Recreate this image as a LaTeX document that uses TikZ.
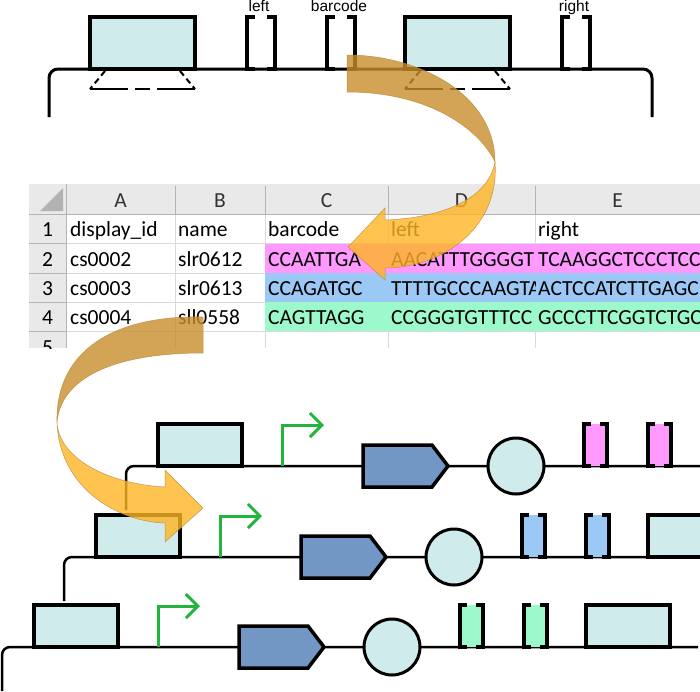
\documentclass[tikz,border=0pt]{standalone}
\usepackage{fontspec}
\setmainfont{Carlito}
\newfontfamily\arialfont{Liberation Sans}
\usetikzlibrary{arrows.meta}

\definecolor{partcyan}{HTML}{CFEBEB}
\definecolor{cdsblue}{HTML}{7397C5}
\definecolor{cellpink}{HTML}{FF99FF}
\definecolor{cellblue}{HTML}{9CC8F5}
\definecolor{cellgreen}{HTML}{9CF9CC}
\definecolor{promgreen}{HTML}{22B43C}
\definecolor{gridline}{HTML}{DADADA}
\definecolor{headbg}{HTML}{E9E9E9}
\definecolor{headline}{HTML}{B4B4B4}
\definecolor{curldark}{HTML}{C98D2C}
\definecolor{curllight}{HTML}{FFB424}
\definecolor{curledge}{HTML}{B5873A}

\tikzset{
  bb/.style={line width=2.5pt},
  partbox/.style={draw, fill=partcyan, line width=3.5pt},
  cdsshape/.style={draw, fill=cdsblue, line width=3.5pt, line join=miter},
  termcircle/.style={draw, fill=partcyan, line width=3pt},
  site/.style={line width=3.5pt},
  prom/.style={promgreen, line width=3pt, -{Straight Barb[length=12pt,width=24pt]}},
  celltext/.style={anchor=base west, inner sep=0pt, font=\fontsize{21.5}{25}\selectfont},
  colhead/.style={anchor=base, inner sep=0pt, font=\fontsize{21.5}{25}\selectfont},
  toplabel/.style={anchor=base, inner sep=0pt, font=\arialfont\fontsize{15.5}{18}\selectfont},
  curl/.style={opacity=0.8, draw=curledge, line width=0.5pt},
}

\begin{document}
\begin{tikzpicture}[x=1pt, y=-1pt]
    \useasboundingbox (0,0) rectangle (700,691);
    \clip (0,0) rectangle (700,691);

    % Vorlage oben
    \draw[line width=3pt, rounded corners=9pt] (49,117) -- (49,69) -- (652,69) -- (652,117);
    \foreach \x in {90,405} {
        \draw[partbox] (\x,17) rectangle (\x+105,69);
        \draw[line width=2pt, dash pattern=on 6pt off 4pt] (\x+15,71) -- (\x,89);
        \draw[line width=2pt, dash pattern=on 6pt off 4pt] (\x+90,71) -- (\x+105,89);
        \draw[line width=2pt, dash pattern=on 38pt off 7pt on 15pt off 7pt on 40pt off 10pt] (\x,89) -- (\x+105,89);
    }
    \foreach \x/\name in {247/left, 327/barcode, 562/right} {
        \draw[site] (\x+8,17) -- (\x,17) -- (\x,69) -- (\x+8,69);
        \draw[site] (\x+20,17) -- (\x+28,17) -- (\x+28,69) -- (\x+20,69);
        \node[toplabel] (lab-\name) at (\x+12,11) {\name};
    }

    % Tabelle
    \begin{scope}
        \clip (29,184) rectangle (700,348);
        \fill[headbg] (29,184) rectangle (700,214);
        \fill[headbg] (29,214) rectangle (66,348);
        \foreach \y in {243,273,302,331} {
            \draw[gridline, line width=1pt] (66,\y) -- (700,\y);
            \draw[headline, line width=1pt] (29,\y) -- (66,\y);
        }
        \foreach \x in {175,265,388,535} {
            \draw[gridline, line width=1pt] (\x,214) -- (\x,348);
            \draw[headline, line width=1pt] (\x,186) -- (\x,214);
        }
        \draw[headline, line width=1pt] (29,214) -- (700,214);
        \draw[headline, line width=1pt] (66,184) -- (66,348);
        \fill[black!30] (63,188) -- (63,211) -- (40,211) -- cycle;
        \fill[cellpink] (265,243.5) rectangle (700,273);
        \fill[cellblue] (265,273) rectangle (700,302);
        \fill[cellgreen] (265,302) rectangle (700,331);

        \foreach \col/\x in {A/120.5, B/220, C/326.5, D/461.5, E/617.5}
            \node[colhead, text=black!80] (head-\col) at (\x,207) {\col};
        \foreach \r/\yb in {1/236, 2/266, 3/295, 4/324, 5/354}
            \node[colhead] (row-\r) at (47.5,\yb) {\r};

        \node[celltext] (a1) at (70,236) {display\_id};
        \node[celltext] (b1) at (178,236) {name};
        \node[celltext] (c1) at (268,236) {barcode};
        \node[celltext] (e1) at (538,236) {right};
        \node[celltext] (a2) at (70,266) {cs0002};
        \node[celltext] (b2) at (178,266) {slr0612};
        \node[celltext] (c2) at (268,266) {CCAATTGA};
        \node[celltext] (e2) at (538,266) {TCAAGGCTCCCTCC};
        \node[celltext] (a3) at (70,295) {cs0003};
        \node[celltext] (b3) at (178,295) {slr0613};
        \node[celltext] (c3) at (268,295) {CCAGATGC};
        \node[celltext] (e3) at (538,295) {ACTCCATCTTGAGC};
        \node[celltext] (a4) at (70,324) {cs0004};
        \node[celltext] (b4) at (178,324) {sll0558};
        \node[celltext] (c4) at (268,324) {CAGTTAGG};
        \node[celltext] (e4) at (538,324) {GCCCTTCGGTCTGC};
        \begin{scope}
            \clip (388,214) rectangle (535,348);
            \node[celltext] (d1) at (391,236) {left};
            \node[celltext] (d2) at (391,266) {AACATTTGGGGT};
            \node[celltext] (d3) at (391,295) {TTTTGCCCAAGTA};
            \node[celltext] (d4) at (391,324) {CCGGGTGTTTCC};
        \end{scope}
    \end{scope}

    % Konstrukte
    \foreach \k/\y/\c in {0/466/cellpink, 1/557/cellblue, 2/647/cellgreen} {
        \begin{scope}[shift={(-62*\k,\y)}]
            \draw[bb, rounded corners=8pt] (126,44) -- (126,0) -- (822,0);
            \draw[partbox] (158,-42) rectangle (242,0);
            \draw[partbox] (710,-42) rectangle (794,0);
            \draw[prom] (282,0) -- (282,-41) -- (324,-41);
            \draw[cdsshape] (363,-21) -- (432,-21) -- (448,0) -- (432,21) -- (363,21) -- cycle;
            \draw[termcircle] (516,0) circle[radius=28pt];
            \foreach \x in {584,648} {
                \fill[\c] (\x,-42) rectangle (\x+23,0);
                \draw[site] (\x+7,-42) -- (\x,-42) -- (\x,0) -- (\x+7,0);
                \draw[site] (\x+16,-42) -- (\x+23,-42) -- (\x+23,0) -- (\x+16,0);
            }
        \end{scope}
    }

    % Pfeile
    \filldraw[curl, fill=curldark] (347,55) .. controls (420,55) and (495,95) .. (495,162)
        .. controls (480,130) and (430,92) .. (347,92) -- cycle;
    \filldraw[curl, fill=curllight] (495,162) .. controls (500,230) and (440,268) .. (385,268)
        -- (385,280) -- (348,247) -- (385,208) -- (385,220)
        .. controls (440,218) and (488,200) .. (495,162) -- cycle;
    \filldraw[curl, fill=curldark] (203,317) .. controls (115,315) and (55,350) .. (57,423)
        .. controls (60,380) and (110,353) .. (203,353) -- cycle;
    \filldraw[curl, fill=curllight] (57,423) .. controls (60,490) and (120,522) .. (165,523)
        -- (165,542) -- (203,508) -- (165,470) -- (165,487)
        .. controls (110,484) and (60,460) .. (57,423) -- cycle;
\end{tikzpicture}
\end{document}
